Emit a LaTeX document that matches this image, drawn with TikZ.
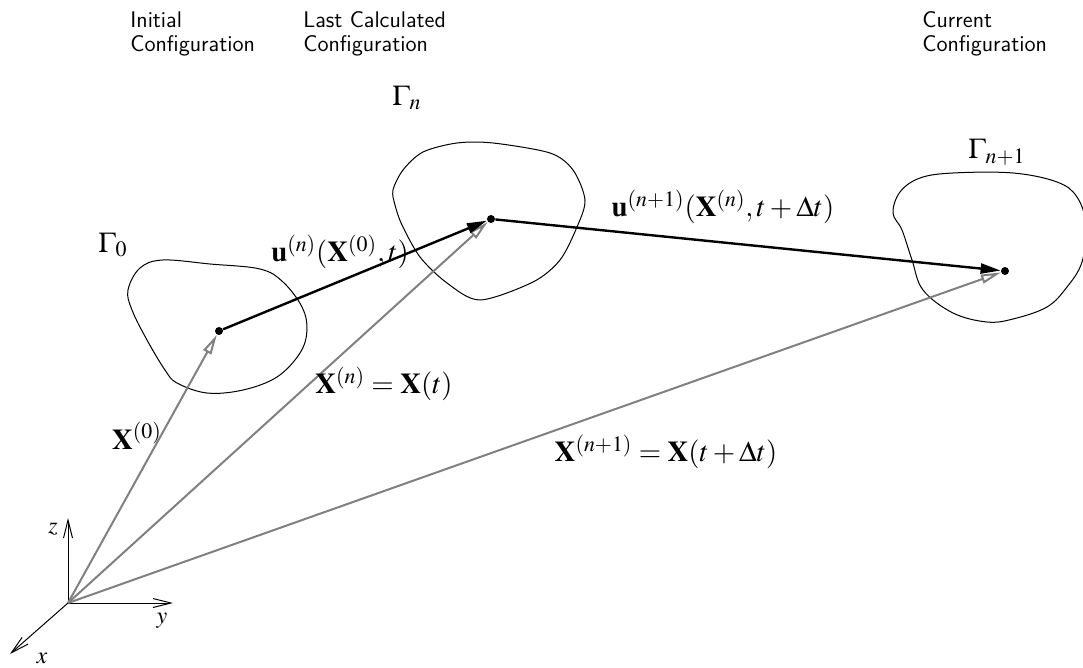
\documentclass[tikz,border=0pt]{standalone}
\usepackage{amsmath}
\usepackage{mathptmx}
\usetikzlibrary{arrows.meta}
\definecolor{VecGray}{HTML}{808080}

\tikzset{
  posvec/.style={draw=VecGray,line width=1pt,
    -{Triangle[open,fill=white,length=10pt,width=4.5pt]}},
  dispvec/.style={draw,line width=1.2pt,-{Triangle[length=10pt,width=5pt]}},
  axis/.style={draw,line width=0.5pt,-{Straight Barb[length=9pt,width=4.5pt]}},
  conf/.style={font=\sffamily\fontsize{11.3}{12}\selectfont,align=left,
    anchor=north west,inner sep=0pt},
  lbl/.style={font=\Large,inner sep=0pt},
  axlbl/.style={font=\large,inner sep=0pt},
  pt/.style={circle,fill,inner sep=0pt,minimum size=4pt}
}

\begin{document}
\begin{tikzpicture}[x=0.5pt,y=-0.5pt]
  \useasboundingbox (0,0) rectangle (1083,668);

  % configuration headers
  \node[conf] (hinit) at (130,11) {Initial\\Configuration};
  \node[conf] (hlast) at (303,11) {Last Calculated\\Configuration};
  \node[conf] (hcurr) at (922,11) {Current\\Configuration};

  % bodies
  \draw[line width=0.5pt] plot[smooth cycle,tension=0.6] coordinates {
    (128,290) (140,268) (163,260) (210,264) (260,269) (283,282) (302,307)
    (307,330) (300,353) (277,377) (243,390) (207,393) (177,383) (165,370)
    (147,340) (132,310)};
  \draw[line width=0.5pt] plot[smooth cycle,tension=0.5] coordinates {
    (393,190) (403,170) (423,152) (457,143) (493,143) (550,153) (573,170)
    (585,200) (577,227) (560,260) (533,282) (480,300) (447,283)
    (420,257) (402,225) (395,205)};
  \draw[line width=0.5pt] plot[smooth cycle,tension=0.6] coordinates {
    (893,213) (900,192) (920,178) (953,173) (1013,173) (1057,182) (1077,197)
    (1086,225) (1082,262) (1067,287) (1047,307) (1013,319) (987,322)
    (953,313) (923,290) (912,260) (902,230)};

  \node[lbl] (g0) at (113,245) {$\Gamma_0$};
  \node[lbl] (gn) at (407,98) {$\Gamma_n$};
  \node[lbl] (gn1) at (997,152) {$\Gamma_{n+1}$};

  % material points
  \coordinate (O) at (68,603);
  \node[pt] (p0) at (219,331) {};
  \node[pt] (pn) at (491,219) {};
  \node[pt] (pn1) at (1005,271) {};

  % axes
  \coordinate (zend) at (68,518);
  \coordinate (yend) at (173,603);
  \coordinate (xend) at (10,654);
  \draw[axis] (O) -- (zend);
  \draw[axis] (O) -- (yend);
  \draw[axis] (O) -- (xend);
  \node[axlbl] (lz) at (53,529) {$z$};
  \node[axlbl] (ly) at (162,621) {$y$};
  \node[axlbl] (lx) at (42,658) {$x$};

  % position vectors
  \draw[posvec] (O) -- (p0);
  \draw[posvec] (O) -- (pn);
  \draw[posvec] (O) -- (pn1);

  % displacements
  \draw[dispvec] (p0) -- (pn);
  \draw[dispvec] (pn) -- (pn1);

  \node[lbl] (u0) at (340,252) {$\mathbf{u}^{(n)}(\mathbf{X}^{(0)},t)$};
  \node[lbl] (u1) at (723,207) {$\mathbf{u}^{(n+1)}(\mathbf{X}^{(n)},t+\Delta t)$};
  \node[lbl] (x0) at (137,436) {$\mathbf{X}^{(0)}$};
  \node[lbl] (xn) at (384,384) {$\mathbf{X}^{(n)}=\mathbf{X}(t)$};
  \node[lbl] (xn1) at (666,452) {$\mathbf{X}^{(n+1)}=\mathbf{X}(t+\Delta t)$};
\end{tikzpicture}
\end{document}
